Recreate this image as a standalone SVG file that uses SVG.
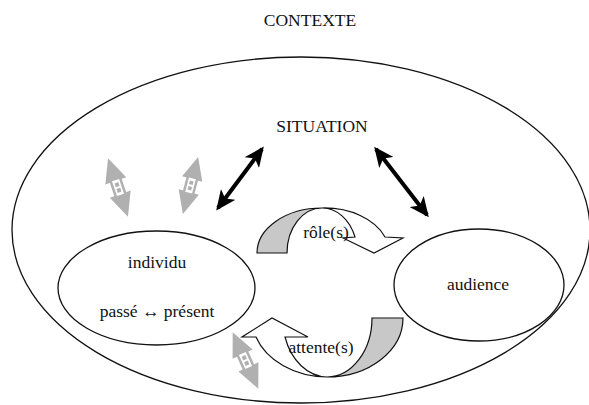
<svg xmlns="http://www.w3.org/2000/svg" width="589" height="405" viewBox="0 0 589 405">
<style>
.t{font-family:"Liberation Serif","Times New Roman","DejaVu Serif",serif;font-size:17.5px;fill:#111;text-anchor:middle}
.el{fill:none;stroke:#111;stroke-width:1.3}
.band{fill:#fff;stroke:#111;stroke-width:1.2;stroke-linejoin:miter}
.shade{fill:#c8c8c8;stroke:#111;stroke-width:1.2}
.blk{stroke:#000;stroke-width:4;fill:none}
</style>
<defs>
<marker id="ah" markerUnits="userSpaceOnUse" markerWidth="20" markerHeight="18" viewBox="0 0 20 18" refX="17" refY="9" orient="auto-start-reverse">
<path d="M0,0 L20,9 L0,18 L5,9 Z" fill="#000"/>
</marker>
<g id="gda">
<path d="M0,-31 L11,-7 L-11,-7 Z M0,31 L11,7 L-11,7 Z" fill="#b0b0b0"/>
<rect x="-5" y="-9" width="10" height="18" fill="#fff" stroke="#b0b0b0" stroke-width="2.5"/>
<rect x="-2" y="-5" width="4" height="4" fill="#b0b0b0"/>
<rect x="-2" y="1" width="4" height="4" fill="#b0b0b0"/>
</g>
</defs>
<rect width="589" height="405" fill="#fff"/>
<g id="contexte">
<ellipse class="el" cx="301" cy="230" rx="289" ry="173"/>
<text class="t" x="310" y="26">CONTEXTE</text>
</g>
<g id="situation">
<text class="t" x="322" y="132">SITUATION</text>
</g>
<g id="individu">
<ellipse class="el" cx="156.5" cy="288" rx="98.5" ry="57"/>
<text class="t" x="157" y="268">individu</text>
<text class="t" x="157" y="317">passé ↔ présent</text>
</g>
<g id="audience">
<ellipse class="el" cx="479" cy="285" rx="85" ry="56"/>
<text class="t" x="478" y="290">audience</text>
</g>
<g id="connectors">
<line class="blk" x1="262" y1="149" x2="218" y2="208" marker-start="url(#ah)" marker-end="url(#ah)"/>
<line class="blk" x1="376" y1="149" x2="427" y2="215" marker-start="url(#ah)" marker-end="url(#ah)"/>
<use href="#gda" transform="translate(118,187.5) rotate(-18.7)"/>
<use href="#gda" transform="translate(190.5,185.5) rotate(15) scale(0.95)"/>
<use href="#gda" transform="translate(245.5,360.5) rotate(-24.4)"/>
</g>
<g id="roles">
<path class="shade" d="M257,253 A65,45 0 0,1 322,208 A35,45 0 0,0 287,253 Z"/>
<path class="band" d="M322,208 A65,45 0 0,1 385,237 L403,238 L374,253 L343,238 L355,237 A35,45 0 0,0 322,208 Z"/>
<text class="t" x="326" y="238">rôle(s)</text>
</g>
<g id="attentes">
<path class="shade" d="M403,318 A76,59 0 0,1 327,377 A45,59 0 0,0 372,318 Z"/>
<path class="band" d="M327,377 A76,59 0 0,1 256,337 L242,337 L272,318 L308,337 L285,337 A45,59 0 0,0 327,377 Z"/>
<text class="t" x="321" y="353">attente(s)</text>
</g>
</svg>
